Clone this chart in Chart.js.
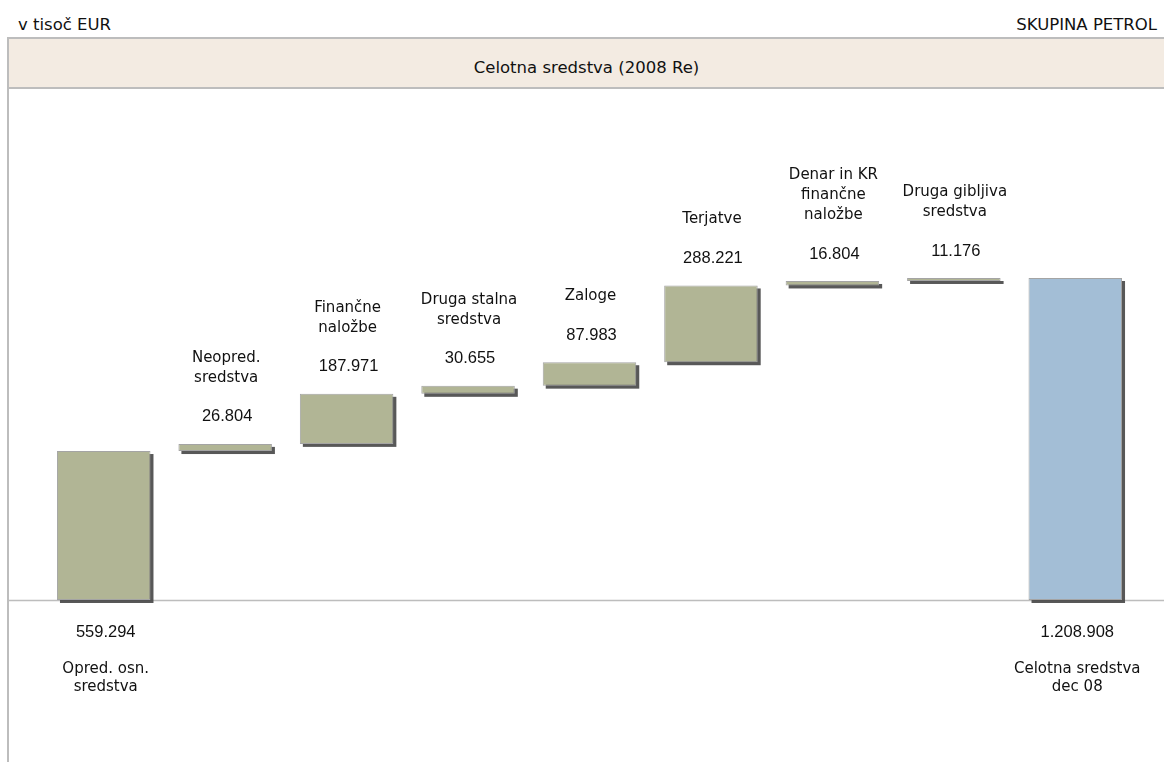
<!DOCTYPE html>
<html>
<head>
<meta charset="utf-8">
<script src="https://cdn.jsdelivr.net/npm/chart.js@4/dist/chart.umd.min.js"></script>
<style>
  html, body { margin: 0; padding: 0; background: #ffffff; }
  #page { position: relative; width: 1164px; height: 762px; overflow: hidden; font-family: "DejaVu Sans", sans-serif; color: #111; }
  #unit { position: absolute; left: 18px; top: 15px; font-size: 16.5px; line-height: 20px; }
  #group { position: absolute; right: 7px; top: 15px; font-size: 16.5px; line-height: 20px; }
  #frame { position: absolute; left: 7px; top: 37px; width: 1157px; height: 725px; border-left: 2px solid #bdbdbd; box-sizing: border-box; }
  #header { position: absolute; left: 7px; top: 37px; width: 1157px; height: 52px; background: #f3ebe2; border-top: 2px solid #bdbdbd; border-bottom: 2px solid #bdbdbd; border-left: 2px solid #bdbdbd; box-sizing: border-box; text-align: center; font-size: 16.5px; line-height: 58px; overflow: hidden; }
  #wrap { position: absolute; left: 8px; top: 88px; width: 1156px; height: 674px; }
</style>
</head>
<body>
<div id="page">
  <div id="unit">v tisoč EUR</div>
  <div id="group">SKUPINA PETROL</div>
  <div id="frame"></div>
  <div id="header">Celotna sredstva (2008 Re)</div>
  <div id="wrap"><canvas id="c" width="1156" height="674"></canvas></div>
</div>
<script>
// ---- data ----
const categories = [
  ['Opred. osn.', 'sredstva'],
  ['Neopred.', 'sredstva'],
  ['Finančne', 'naložbe'],
  ['Druga stalna', 'sredstva'],
  ['Zaloge'],
  ['Terjatve'],
  ['Denar in KR', 'finančne', 'naložbe'],
  ['Druga gibljiva', 'sredstva'],
  ['Celotna sredstva', 'dec 08']
];
const values = [559294, 26804, 187971, 30655, 87983, 288221, 16804, 11176, 1208908];
const barKinds = ['total', 'step', 'step', 'step', 'step', 'step', 'step', 'step', 'total'];
const barColors = ['#b1b595', '#b1b595', '#b1b595', '#b1b595', '#b1b595', '#b1b595', '#b1b595', '#b1b595', '#a3bed6'];

function fmt(v) {
  return String(v).replace(/\B(?=(\d{3})+(?!\d))/g, '.');
}

// build floating ranges for the waterfall
const ranges = [];
let running = 0;
values.forEach((v, i) => {
  if (barKinds[i] === 'total') { ranges.push([0, v]); running = v; }
  else { ranges.push([running, running + v]); running += v; }
});

const decoPlugin = {
  id: 'deco',
  beforeDatasetsDraw(chart) {
    const ctx = chart.ctx;
    const y0 = Math.round(chart.scales.y.getPixelForValue(0)) + 0.5;
    ctx.save();
    ctx.strokeStyle = '#bdbdbd';
    ctx.lineWidth = 1.5;
    ctx.beginPath();
    ctx.moveTo(0, y0);
    ctx.lineTo(chart.width, y0);
    ctx.stroke();
    // drop shadows behind each bar
    const meta = chart.getDatasetMeta(0);
    ctx.fillStyle = 'rgba(70,70,70,0.9)';
    meta.data.forEach((bar) => {
      const top = Math.min(bar.y, bar.base);
      const h = Math.abs(bar.base - bar.y);
      ctx.fillRect(bar.x - bar.width / 2 + 3, top + 3, bar.width, h);
    });
    ctx.restore();
  },
  afterDatasetsDraw(chart) {
    const ctx = chart.ctx;
    const meta = chart.getDatasetMeta(0);
    ctx.save();
    ctx.textAlign = 'center';
    ctx.textBaseline = 'middle';
    ctx.fillStyle = '#111';
    const y0 = chart.scales.y.getPixelForValue(0);
    const valueFont = '16.5px "Liberation Sans", Arial, sans-serif';
    const catFont = '15px "DejaVu Sans", sans-serif';
    meta.data.forEach((bar, i) => {
      const x = bar.x;
      const lines = categories[i];
      if (barKinds[i] === 'total') {
        ctx.font = valueFont;
        const vy = y0 + 32;
        ctx.fillText(fmt(values[i]), x + 2, vy);
        ctx.font = catFont;
        lines.forEach((t, k) => ctx.fillText(t, x + 2, vy + 37 + k * 18));
      } else {
        const top = Math.min(bar.y, bar.base);
        const vy = top - 27;
        ctx.font = valueFont;
        ctx.fillText(fmt(values[i]), x + 2, vy);
        ctx.font = catFont;
        const n = lines.length;
        lines.forEach((t, k) => ctx.fillText(t, x + 1, vy - 39 - (n - 1 - k) * 20));
      }
    });
    ctx.restore();
  }
};

new Chart(document.getElementById('c'), {
  type: 'bar',
  data: {
    labels: categories.map(c => c.join(' ')),
    datasets: [{
      data: ranges,
      backgroundColor: barColors,
      borderColor: '#a4a4a4',
      borderWidth: 1,
      borderSkipped: false,
      barPercentage: 0.77,
      categoryPercentage: 1.0
    }]
  },
  options: {
    responsive: false,
    animation: false,
    layout: { padding: { left: 35, right: 28, top: 0, bottom: 0 } },
    plugins: { legend: { display: false }, tooltip: { enabled: false } },
    scales: {
      x: { display: false },
      y: { display: false, min: -608200, max: 1922230 }
    }
  },
  plugins: [decoPlugin]
});
</script>
</body>
</html>
